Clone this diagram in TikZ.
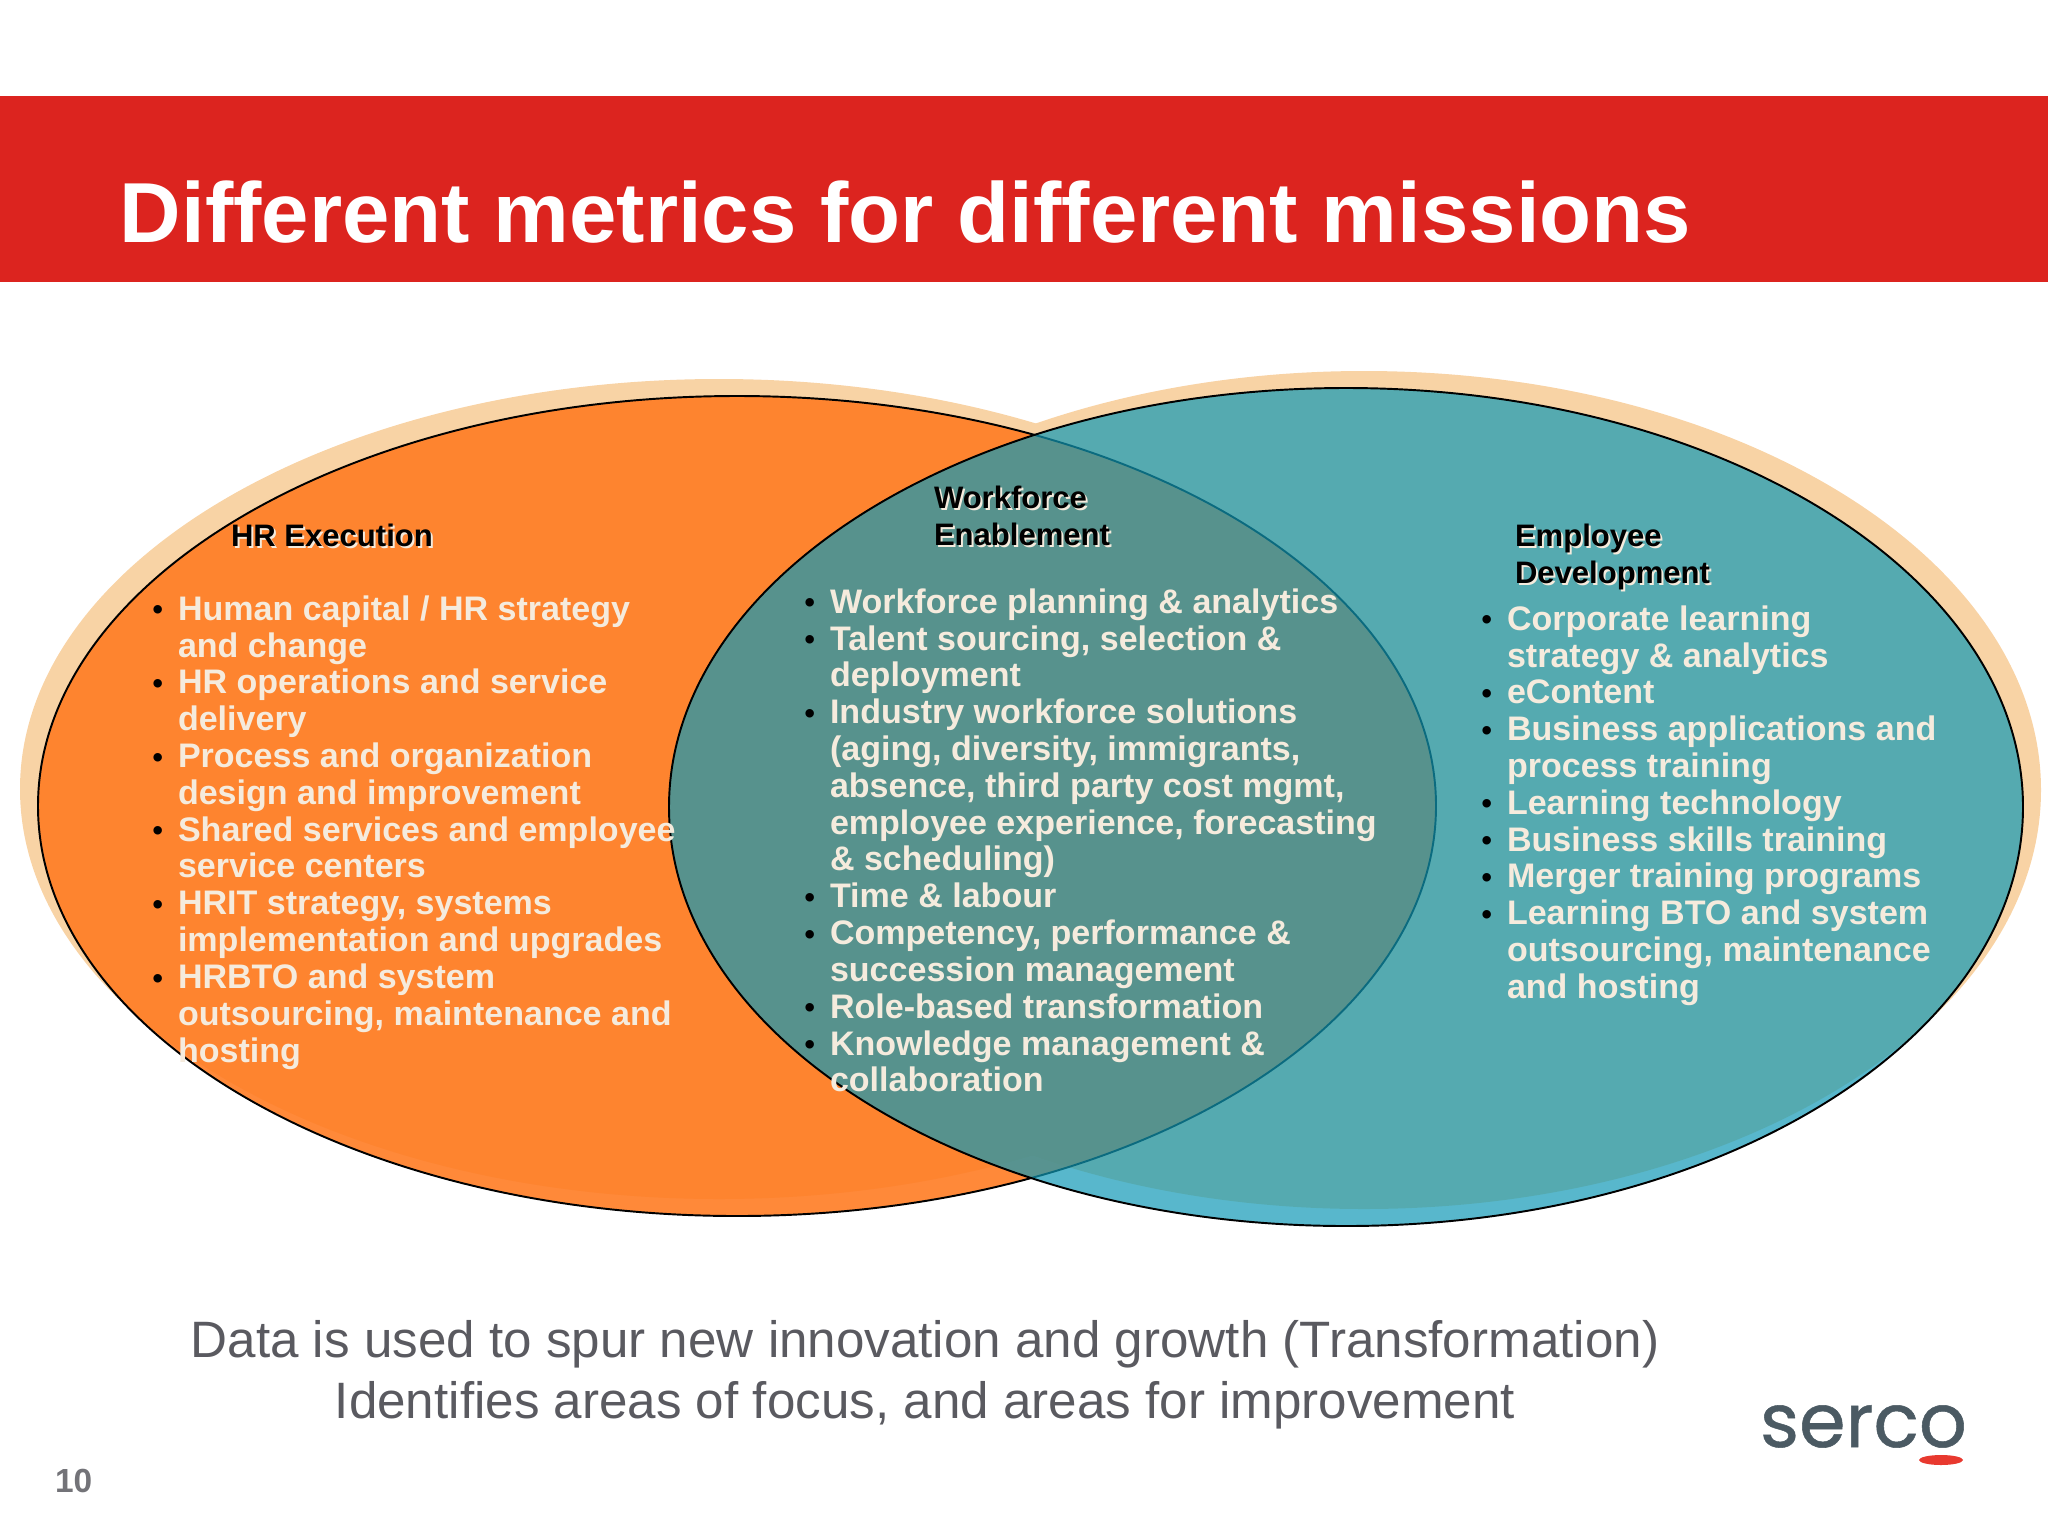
\documentclass[tikz,border=0pt]{standalone}
\usepackage{fontspec}
\setmainfont{Liberation Sans}
\newfontfamily\logofont[FakeBold=0.7]{Poppins}
\definecolor{barred}{HTML}{DC241F}
\definecolor{peach}{HTML}{F8D3A5}
\definecolor{hrorange}{RGB}{255,124,35}
\definecolor{devteal}{RGB}{17,153,182}
\definecolor{listcream}{HTML}{F5EBDD}
\definecolor{capgrey}{HTML}{5A5A60}
\definecolor{logogrey}{HTML}{4B5A63}
\definecolor{logored}{HTML}{E8392F}
\newcommand{\blt}{\llap{\textcolor{black}{\fontsize{8.4}{9}\selectfont\raisebox{0.1pt}{\textbullet}}\hspace{1.5mm}}}
\tikzset{
  every node/.style={inner sep=0pt,outer sep=0pt},
  listtext/.style={anchor=north west,align=left,text=listcream,
    font=\fontsize{9.68}{10.47}\selectfont\bfseries},
  headtext/.style={anchor=north west,align=left,
    font=\fontsize{8.83}{10.47}\selectfont\bfseries},
  capline/.style={text=capgrey,font=\fontsize{14.55}{17}\selectfont}
}
\begin{document}
\begin{tikzpicture}[x=0.01cm,y=-0.01cm]
  \useasboundingbox (0,0) rectangle (2048,1536);
  % Red title bar
  \fill[barred] (0,96) rectangle (2048,282);
  \node[anchor=base west,text=white,font=\fontsize{24.22}{28}\selectfont\bfseries] (title) at (120,242) {Different metrics for different missions};
  % Shadows of the two ellipses
  \fill[peach] (719,789) ellipse [x radius=699,y radius=410];
  \fill[peach] (1364,790) ellipse [x radius=677,y radius=419];
  % Ellipses
  \draw[fill=hrorange,fill opacity=0.9,line width=0.55pt] (737,806) ellipse [x radius=699,y radius=410];
  \fill[devteal,opacity=0.7] (1346,807) ellipse [x radius=677,y radius=419];
  \draw[line width=0.55pt] (1346,807) ellipse [x radius=677,y radius=419];
  % Headings, each with its pale shadow
  \node[headtext,text=listcream] (hrshadow) at (233,526) {HR Execution};
  \node[headtext] (hr) at (231,524) {HR Execution};
  \node[headtext,text=listcream] (wfshadow) at (936,488) {Workforce\\Enablement};
  \node[headtext] (wf) at (934,486) {Workforce\\Enablement};
  \node[headtext,text=listcream] (edshadow) at (1517,526) {Employee\\Development};
  \node[headtext] (ed) at (1515,524) {Employee\\Development};
  % Lists
  \node[listtext] (hrlist) at (178,595.5) {\blt Human capital / HR strategy\\and change\\
    \blt HR operations and service\\delivery\\
    \blt Process and organization\\design and improvement\\
    \blt Shared services and employee\\service centers\\
    \blt HRIT strategy, systems\\implementation and upgrades\\
    \blt HRBTO and system\\outsourcing, maintenance and\\hosting};
  \node[listtext] (wflist) at (830,588.5) {\blt Workforce planning \& analytics\\
    \blt Talent sourcing, selection \&\\deployment\\
    \blt Industry workforce solutions\\(aging, diversity, immigrants,\\absence, third party cost mgmt,\\employee experience, forecasting\\\& scheduling)\\
    \blt Time \& labour\\
    \blt Competency, performance \&\\succession management\\
    \blt Role-based transformation\\
    \blt Knowledge management \&\\collaboration};
  \node[listtext] (edlist) at (1507,605.5) {\blt Corporate learning\\strategy \& analytics\\
    \blt eContent\\
    \blt Business applications and\\process training\\
    \blt Learning technology\\
    \blt Business skills training\\
    \blt Merger training programs\\
    \blt Learning BTO and system\\outsourcing, maintenance\\and hosting};
  % Bottom lines
  \node[capline,anchor=base] (capa) at (925,1357) {Data is used to spur new innovation and growth (Transformation)};
  \node[capline,anchor=base] (capb) at (925,1418) {Identifies areas of focus, and areas for improvement};
  % Page number and logo
  \node[anchor=base west,text=capgrey!85,font=\fontsize{9.5}{11}\selectfont\bfseries] (pagenum) at (55,1492) {10};
  \node[anchor=base west,text=logogrey,font=\fontsize{21.3}{24}\logofont\selectfont] (logo) at (1760,1447) {serco};
  \fill[logored] (1941,1460) ellipse [x radius=22,y radius=5];
\end{tikzpicture}
\end{document}
